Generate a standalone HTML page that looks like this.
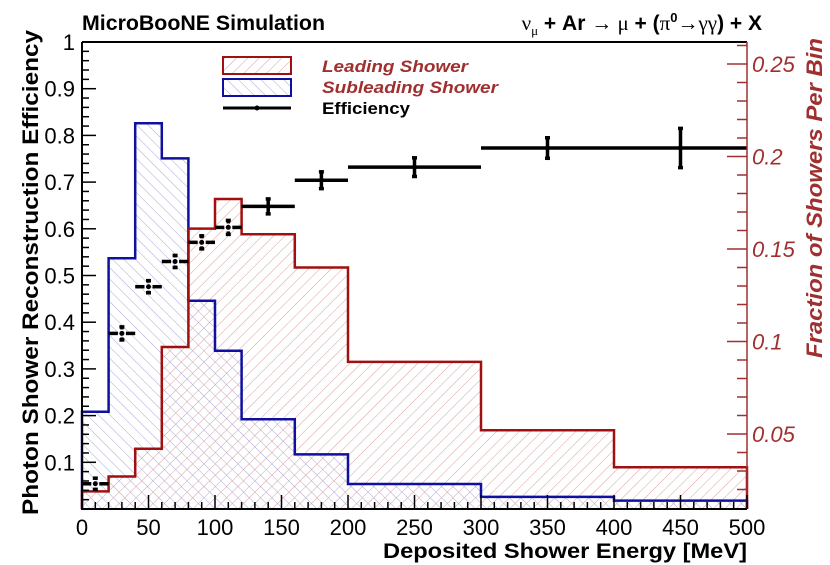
<!DOCTYPE html>
<html><head><meta charset="utf-8"><style>
html,body{margin:0;padding:0;background:#fff;}
svg{display:block;font-family:"Liberation Sans",Arial,sans-serif;}
</style></head><body>
<svg id="chart" width="830" height="565" viewBox="0 0 830 565" xmlns="http://www.w3.org/2000/svg">
<defs>
<pattern id="hatchRed" patternUnits="userSpaceOnUse" width="8" height="8" patternTransform="rotate(45)">
<line x1="0" y1="0" x2="0" y2="8" stroke="#d9a0a0" stroke-width="1"/>
</pattern>
<pattern id="hatchBlue" patternUnits="userSpaceOnUse" width="8" height="8" patternTransform="rotate(-45)">
<line x1="0" y1="0" x2="0" y2="8" stroke="#a8a8dc" stroke-width="1"/>
</pattern>
</defs>
<g id="plot"></g>
<text x="82" y="30" font-size="21" font-weight="bold" textLength="243" lengthAdjust="spacingAndGlyphs">MicroBooNE Simulation</text>
<text x="762" y="30" font-size="21" font-weight="bold" text-anchor="end"><tspan font-family="Liberation Serif,serif" font-weight="normal">ν</tspan><tspan font-size="13" dy="5" font-family="Liberation Serif,serif" font-weight="normal">μ</tspan><tspan dy="-5"> + Ar </tspan><tspan font-family="Liberation Serif,serif" font-weight="normal">→ μ</tspan><tspan> + (</tspan><tspan font-family="Liberation Serif,serif" font-weight="normal">π</tspan><tspan font-size="13" dy="-8">0</tspan><tspan dy="8" font-family="Liberation Serif,serif" font-weight="normal">→γγ</tspan><tspan>) + X</tspan></text>
<text x="383" y="558" font-size="21" font-weight="bold" textLength="364" lengthAdjust="spacingAndGlyphs">Deposited Shower Energy [MeV]</text>
<text transform="translate(38,515) rotate(-90)" font-size="22" font-weight="bold" textLength="485" lengthAdjust="spacingAndGlyphs">Photon Shower Reconstruction Efficiency</text>
<text transform="translate(822,358) rotate(-90)" font-size="22" font-weight="bold" font-style="italic" fill="#a03030" textLength="320" lengthAdjust="spacingAndGlyphs">Fraction of Showers Per Bin</text>
<g>
<rect x="223" y="57" width="68" height="17" fill="url(#hatchRed)" stroke="#a01010" stroke-width="2"/>
<text x="322" y="72" font-size="17" font-weight="bold" font-style="italic" fill="#a03030" textLength="146" lengthAdjust="spacingAndGlyphs">Leading Shower</text>
<rect x="223" y="79" width="68" height="17" fill="url(#hatchBlue)" stroke="#1010a0" stroke-width="2"/>
<text x="322" y="93" font-size="17" font-weight="bold" font-style="italic" fill="#a03030" textLength="176" lengthAdjust="spacingAndGlyphs">Subleading Shower</text>
<line x1="223" y1="108" x2="291" y2="108" stroke="#000" stroke-width="3"/>
<circle cx="257" cy="108" r="2.5" fill="#000"/>
<text x="322" y="114" font-size="17" font-weight="bold" textLength="88" lengthAdjust="spacingAndGlyphs">Efficiency</text>
</g>
</svg>
<script>
const binEdges=[0,20,40,60,80,100,120,160,200,300,400,500];
const leadingFrac=[0.019,0.027,0.042,0.097,0.161,0.177,0.158,0.140,0.089,0.052,0.032];
const subleadingFrac=[0.062,0.145,0.218,0.199,0.122,0.095,0.058,0.039,0.023,0.0160,0.0140];
const effCenters=[10,30,50,70,90,110,140,180,250,350,450];
const effLow=[0,20,40,60,80,100,120,160,200,300,400];
const effHigh=[20,40,60,80,100,120,160,200,300,400,500];
const effValues=[0.054,0.376,0.476,0.530,0.571,0.603,0.648,0.704,0.732,0.773,0.773];
const effErrors=[0.012,0.014,0.013,0.013,0.014,0.015,0.016,0.018,0.02,0.022,0.042];
const xTicks=[0,50,100,150,200,250,300,350,400,450,500];
const yLeftTicks=[0.1,0.2,0.3,0.4,0.5,0.6,0.7,0.8,0.9,1];
const yRightTicks=[0.05,0.1,0.15,0.2,0.25];

const X0=82,X1=747,Y0=509,Y1=42;
const sx=v=>X0+(X1-X0)*v/500;
const syL=v=>Y0-(Y0-Y1)*v;
const syR=v=>434-(v-0.05)*1850;
const NS="http://www.w3.org/2000/svg";
const g=document.getElementById('plot');
function mk(t,a){const e=document.createElementNS(NS,t);for(const k in a)e.setAttribute(k,a[k]);g.appendChild(e);return e;}
function histPath(vals){let d=`M${sx(binEdges[0])},${Y0}`;for(let i=0;i<vals.length;i++){const y=Math.min(Y0,syR(vals[i]));d+=`L${sx(binEdges[i])},${y}L${sx(binEdges[i+1])},${y}`;}d+=`L${sx(binEdges[binEdges.length-1])},${Y0}`;return d;}
let p=mk('path',{d:histPath(subleadingFrac)+'Z',fill:'url(#hatchBlue)',stroke:'none'});


p=mk('path',{d:histPath(leadingFrac)+'Z',fill:'url(#hatchRed)',stroke:'none'});


p=mk('path',{d:histPath(subleadingFrac),fill:'none',stroke:'#1010a0','stroke-width':2.5});


p=mk('path',{d:histPath(leadingFrac),fill:'none',stroke:'#a01010','stroke-width':2.5});


for(let i=0;i<effValues.length;i++){
 const cx=sx(effCenters[i]),cy=syL(effValues[i]);
 const gap=4;
 const grp=mk('g',{stroke:'#000','stroke-width':3.5});
 
 
 const a=(x1,y1,x2,y2)=>{const l=document.createElementNS(NS,'line');l.setAttribute('x1',x1);l.setAttribute('y1',y1);l.setAttribute('x2',x2);l.setAttribute('y2',y2);grp.appendChild(l);};
 const lx=sx(effLow[i]),hx=sx(effHigh[i]);
 const ey=(Y0-Y1)*effErrors[i];
 if(i<6){a(lx,cy,cx-gap,cy);a(cx+gap,cy,hx,cy);a(cx,cy-ey,cx,cy-gap);a(cx,cy+gap,cx,cy+ey);}
 else{a(lx,cy,hx,cy);a(cx,cy-ey,cx,cy+ey);}
 a(cx-2.5,cy-ey,cx+2.5,cy-ey);a(cx-2.5,cy+ey,cx+2.5,cy+ey);
 const c=document.createElementNS(NS,'circle');c.setAttribute('cx',cx);c.setAttribute('cy',cy);c.setAttribute('r',2.5);c.setAttribute('fill','#000');c.setAttribute('stroke','none');grp.appendChild(c);
}
p=mk('path',{d:`M${X0},${Y1}L${X1},${Y1}M${X0},${Y1}L${X0},${Y0}L${X1},${Y0}`,fill:'none',stroke:'#000','stroke-width':2});


p=mk('line',{x1:X1,y1:Y1,x2:X1,y2:Y0,stroke:'#a03030','stroke-width':1.5});


for(let v=0;v<=500;v+=10){const maj=v%50===0;mk('line',{x1:sx(v),y1:Y0,x2:sx(v),y2:Y0-(maj?14:7),stroke:'#000','stroke-width':1.5});}
xTicks.forEach(v=>{const t=mk('text',{x:sx(v),y:535,'font-size':22,'text-anchor':'middle'});t.textContent=v;

});
for(let k=0;k<=50;k++){const v=k/50;const maj=k%5===0;mk('line',{x1:X0,y1:syL(v),x2:X0+(maj?14:7),y2:syL(v),stroke:'#000','stroke-width':1.5});}
yLeftTicks.forEach(v=>{const t=mk('text',{x:75,y:syL(v)+8,'font-size':22,'text-anchor':'end'});t.textContent=(v===1?'1':v.toFixed(1));

});
for(let k=2;k<=26;k++){const v=k/100;const y=syR(v);if(y>Y0||y<Y1)continue;const maj=k%5===0;mk('line',{x1:X1,y1:y,x2:X1-(maj?20:10),y2:y,stroke:'#a03030','stroke-width':1.5});}
yRightTicks.forEach(v=>{const t=mk('text',{x:752,y:syR(v)+8,'font-size':22,'font-style':'italic',fill:'#a03030'});t.textContent=String(v);

});
</script>
</body></html>
